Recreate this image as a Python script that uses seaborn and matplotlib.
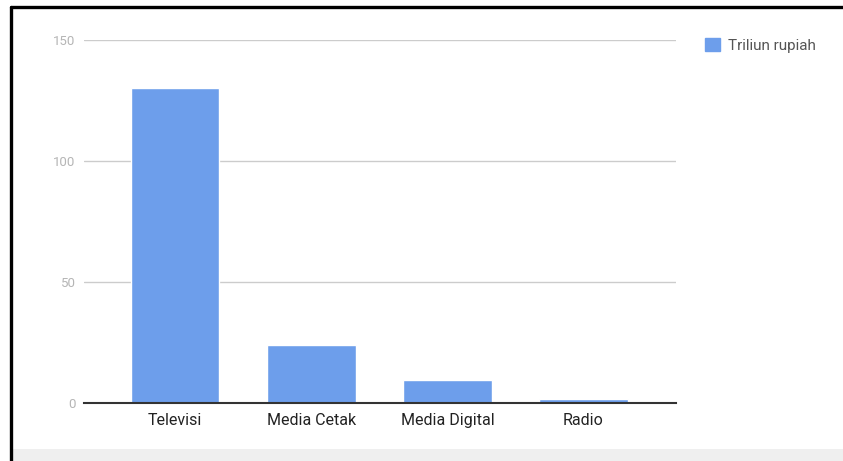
import pandas as pd
import matplotlib.pyplot as plt
import seaborn as sns
from matplotlib.patches import Patch, Rectangle
from matplotlib.lines import Line2D

# data
categories = ['Televisi', 'Media Cetak', 'Media Digital', 'Radio']
values = [130, 24, 9.5, 1.7]
series_name = 'Triliun rupiah'

df = pd.DataFrame({'media': categories, 'nilai': values})

sns.set_style('white')
plt.rcParams['font.family'] = ['Roboto', 'DejaVu Sans']

W, H = 843, 461
fig = plt.figure(figsize=(W / 100, H / 100), dpi=100)
ax = fig.add_axes([84 / W, 1 - 403 / H, (676 - 84) / W, (403 - 40) / H])

bar_color = '#6d9eeb'
sns.barplot(data=df, x='media', y='nilai', color=bar_color, width=0.65,
            saturation=1, ax=ax)

ax.set_ylim(0, 150)
ax.set_xlim(-0.67, 3.68)
ax.set_yticks([0, 50, 100, 150])
ax.yaxis.grid(True, color='#cccccc', linewidth=1)
ax.set_axisbelow(True)
ax.set_xlabel('')
ax.set_ylabel('')
for s in ['top', 'right', 'left']:
    ax.spines[s].set_visible(False)
ax.spines['bottom'].set_color('#333333')
ax.spines['bottom'].set_linewidth(1.5)
ax.tick_params(axis='y', length=0, pad=6, labelsize=9.5, labelcolor='#b5b5b5')
ax.tick_params(axis='x', length=0, pad=7, labelsize=11.5, labelcolor='#222222')

fig.legend(handles=[Patch(facecolor=bar_color, edgecolor=bar_color)],
           labels=[series_name], loc='upper left',
           bbox_to_anchor=(691 / W, 1 - 24 / H), frameon=False,
           fontsize=11, labelcolor='#555555', handlelength=1.0,
           handleheight=1.0, handletextpad=0.5)

# page frame around the chart image
fig.add_artist(Rectangle((12 / W, 0), 1, 12 / H, transform=fig.transFigure,
                         facecolor='#efefef', edgecolor='none', zorder=0))
fig.add_artist(Line2D([10.5 / W, 1], [1 - 7.5 / H, 1 - 7.5 / H],
                      transform=fig.transFigure, color='black', linewidth=2.4))
fig.add_artist(Line2D([10.5 / W, 10.5 / W], [0, 1 - 7.5 / H],
                      transform=fig.transFigure, color='black', linewidth=2.4))

fig.savefig('out.png', dpi=100)
